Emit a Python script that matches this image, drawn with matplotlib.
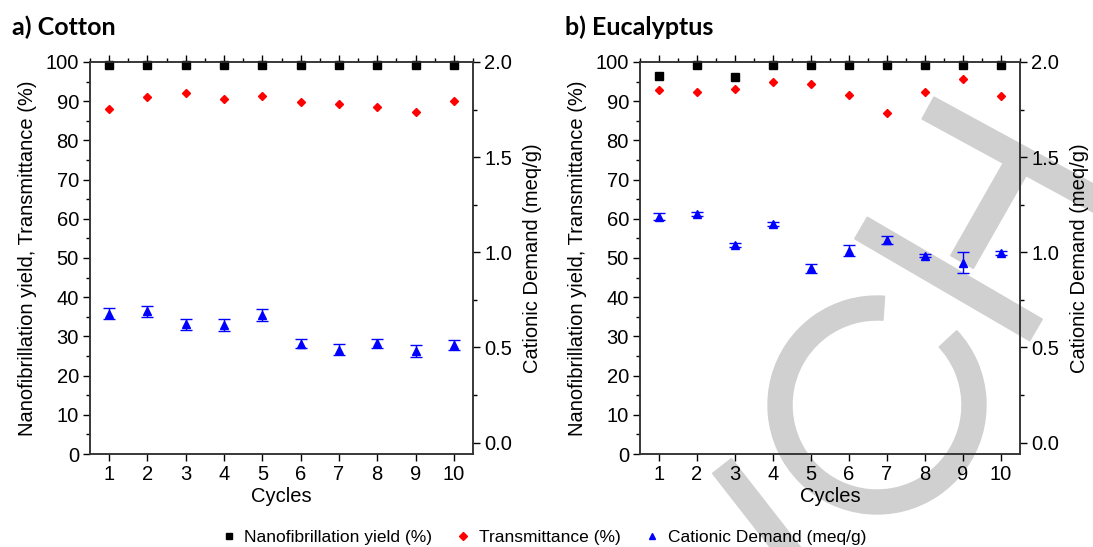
import matplotlib
matplotlib.use('Agg')
import matplotlib.pyplot as plt
from matplotlib.patches import Polygon, Wedge
from matplotlib.transforms import IdentityTransform
from matplotlib.ticker import MultipleLocator
import numpy as np

plt.rcParams['font.family'] = ['Liberation Sans', 'DejaVu Sans']

cycles = [1, 2, 3, 4, 5, 6, 7, 8, 9, 10]

# a) Cotton
cotton_yield = [99.3, 99.3, 99.3, 99.3, 99.3, 99.3, 99.3, 99.3, 99.3, 99.3]
cotton_trans = [88.1, 91.1, 92.1, 90.5, 91.4, 89.9, 89.3, 88.5, 87.2, 90.1]
cotton_cd = [0.677, 0.689, 0.621, 0.618, 0.670, 0.520, 0.488, 0.521, 0.481, 0.514]
cotton_cd_err = [0.03, 0.03, 0.03, 0.03, 0.03, 0.025, 0.03, 0.025, 0.03, 0.025]

# b) Eucalyptus
euc_yield = [96.4, 99.3, 96.1, 99.3, 99.3, 99.3, 99.3, 99.3, 99.3, 99.3]
euc_trans = [92.9, 92.3, 93.2, 94.9, 94.4, 91.5, 87.1, 92.3, 95.6, 91.2]
euc_cd = [1.188, 1.202, 1.039, 1.148, 0.915, 1.008, 1.064, 0.983, 0.946, 0.996]
euc_cd_err = [0.02, 0.01, 0.01, 0.01, 0.026, 0.03, 0.02, 0.01, 0.054, 0.01]

W, H = 1093, 547
fig = plt.figure(figsize=(W / 100, H / 100), dpi=100)

# grey watermark behind everything (pixel coords, y down)
wm = '#d0d0d0'
def px(x, y):
    return (x, H - y)

def band(p0, p1, w):
    p0 = np.array(px(*p0), float)
    p1 = np.array(px(*p1), float)
    d = p1 - p0
    n = np.array([-d[1], d[0]]) / np.hypot(*d) * w / 2
    return Polygon([p0 + n, p1 + n, p1 - n, p0 - n], closed=True,
                   transform=IdentityTransform(), color=wm, zorder=-5)

fig.patches.append(Wedge(px(877, 405), 109, 86, 403, width=24,
                         transform=IdentityTransform(), color=wm, zorder=-5))
fig.patches.append(band((722, 466), (800, 566), 24))
fig.patches.append(band((928, 108), (1130, 218), 25))
fig.patches.append(band((861, 228), (1036, 330), 25))
fig.patches.append(band((962, 262), (1020, 160), 26))

fs = 14.5

def panel(left, right, yld, trans, cd, cd_err, title, tx):
    ax = fig.add_axes([left / W, 1 - 454 / H, (right - left) / W, (454 - 62) / H])
    ax.set_facecolor('none')
    ax.plot(cycles, yld, 's', color='black', ms=5.2, clip_on=False, zorder=5)
    ax.plot(cycles, trans, 'D', color='red', ms=4.3, zorder=5)
    ax.set_xlim(0.5, 10.5)
    ax.set_ylim(0, 100)
    ax.set_xticks(cycles)
    ax.yaxis.set_major_locator(MultipleLocator(10))
    ax.yaxis.set_minor_locator(MultipleLocator(5))
    ax.xaxis.set_minor_locator(MultipleLocator(0.5))
    ax.tick_params(axis='both', which='major', labelsize=fs, length=5, width=1, direction='out', pad=3)
    ax.tick_params(axis='both', which='minor', length=3, width=1, direction='out')
    ax.tick_params(axis='x', which='both', top=True, labeltop=False)
    ax.tick_params(axis='x', which='minor', bottom=False)
    for s in ax.spines.values():
        s.set_linewidth(1.1)
        s.set_color('#333333')
    ax.set_xlabel('Cycles', fontsize=fs, labelpad=2)
    ax.set_ylabel('Nanofibrillation yield, Transmittance (%)', fontsize=fs, labelpad=6)

    ax2 = ax.twinx()
    ax2.set_facecolor('none')
    ax2.errorbar(cycles, cd, yerr=cd_err, fmt='^', color='blue', ms=5.8,
                 capsize=4.5, elinewidth=1, capthick=1, zorder=5)
    ax2.set_ylim(-0.06, 2.0)
    ax2.yaxis.set_major_locator(MultipleLocator(0.5))
    ax2.yaxis.set_minor_locator(MultipleLocator(0.25))
    ax2.yaxis.set_major_formatter(matplotlib.ticker.FormatStrFormatter('%.1f'))
    ax2.tick_params(axis='y', which='major', labelsize=fs, length=5, width=1, pad=3)
    ax2.tick_params(axis='y', which='minor', length=3, width=1)
    for s in ax2.spines.values():
        s.set_linewidth(1.1)
        s.set_color('#333333')
    ax2.set_ylabel('Cationic Demand (meq/g)', fontsize=fs, labelpad=8)
    fig.text(tx / W, 1 - 27 / H, title, fontsize=18, fontweight='bold',
             family=['Lato', 'DejaVu Sans'], va='center', ha='left')
    return ax, ax2

panel(90, 473, cotton_yield, cotton_trans, cotton_cd, cotton_cd_err, 'a) Cotton', 12)
panel(640, 1020, euc_yield, euc_trans, euc_cd, euc_cd_err, 'b) Eucalyptus', 565)

h1 = plt.Line2D([], [], ls='none', marker='s', color='black', ms=5)
h2 = plt.Line2D([], [], ls='none', marker='D', color='red', ms=4)
h3 = plt.Line2D([], [], ls='none', marker='^', color='blue', ms=5)
fig.legend([h1, h2, h3], ['Nanofibrillation yield (%)', 'Transmittance (%)', 'Cationic Demand (meq/g)'],
           loc='center', bbox_to_anchor=(543 / W, 1 - 537 / H), ncol=3, frameon=False,
           fontsize=12.5, handlelength=1.0, handletextpad=0.4, columnspacing=1.3,
           borderpad=0, borderaxespad=0)

fig.savefig('out.png', dpi=100)
